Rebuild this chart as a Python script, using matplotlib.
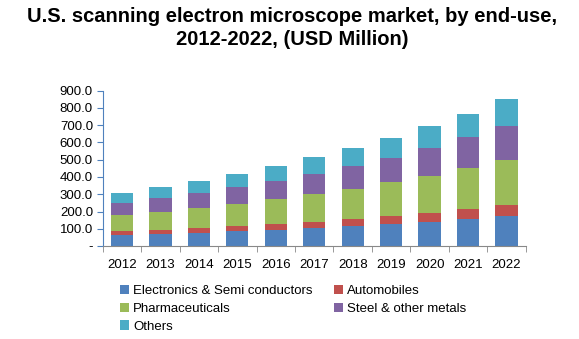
import matplotlib
matplotlib.use("Agg")
import matplotlib.pyplot as plt
import numpy as np

# data (USD Million)
years = ["2012", "2013", "2014", "2015", "2016", "2017", "2018", "2019", "2020", "2021", "2022"]
electronics = [64, 71, 75, 87, 95, 106, 118, 129, 141, 156, 176]
automobiles = [23, 22, 29, 29, 32, 33, 38, 45, 50, 58, 62]
pharma = [93, 104, 116, 127, 145, 162, 174, 197, 215, 238, 260]
steel = [69, 81, 87, 99, 105, 116, 133, 139, 162, 180, 197]
others = [58, 64, 70, 75, 86, 99, 105, 116, 127, 133, 157]

series = [
    ("Electronics & Semi conductors", electronics, "#4F81BD"),
    ("Automobiles", automobiles, "#C0504D"),
    ("Pharmaceuticals", pharma, "#9BBB59"),
    ("Steel & other metals", steel, "#8064A2"),
    ("Others", others, "#4BACC6"),
]

plt.rcParams['font.family'] = ['Liberation Sans', 'DejaVu Sans']

fig = plt.figure(figsize=(5.79, 3.39), dpi=100)
ax = fig.add_axes([0.1774, 0.2743, 0.7306, 0.4581])

x = np.arange(len(years))
bottom = np.zeros(len(years))
handles = []
for name, vals, color in series:
    b = ax.bar(x, vals, 0.58, bottom=bottom, color=color, label=name)
    handles.append(b)
    bottom += np.array(vals)

ax.set_xlim(-0.5, len(years) - 0.5)
ax.set_ylim(0, 900)
ax.set_yticks(np.arange(0, 901, 100))
ax.set_yticklabels(["-"] + [f"{v:.1f}" for v in range(100, 901, 100)], fontsize=9.5)
ax.set_xticks(x)
ax.set_xticklabels(years, fontsize=9.5)
ax.set_xticks(np.arange(-0.5, len(years), 1), minor=True)
ax.tick_params(axis='x', which='major', length=0, pad=9)
ax.tick_params(axis='x', which='minor', length=4, color='#888888')
ax.tick_params(axis='y', length=4, color='#4F81BD', pad=3)

for s in ['top', 'right']:
    ax.spines[s].set_visible(False)
ax.spines['left'].set_color('#4F81BD')
ax.spines['bottom'].set_color('#888888')

fig.text(0.505, 0.978, "U.S. scanning electron microscope market, by end-use,\n2012-2022, (USD Million)",
         ha='center', va='top', fontsize=14.5, fontweight='bold', linespacing=1.25)

order = [0, 2, 4, 1, 3]
fig.legend([handles[i] for i in order], [series[i][0] for i in order],
           ncol=2, loc='upper left', bbox_to_anchor=(0.207, 0.16), frameon=False,
           fontsize=9.5, handlelength=0.7, handleheight=0.7, handletextpad=0.3,
           columnspacing=1.6, labelspacing=0.42, borderpad=0, borderaxespad=0)

fig.savefig("out.png", dpi=100)
